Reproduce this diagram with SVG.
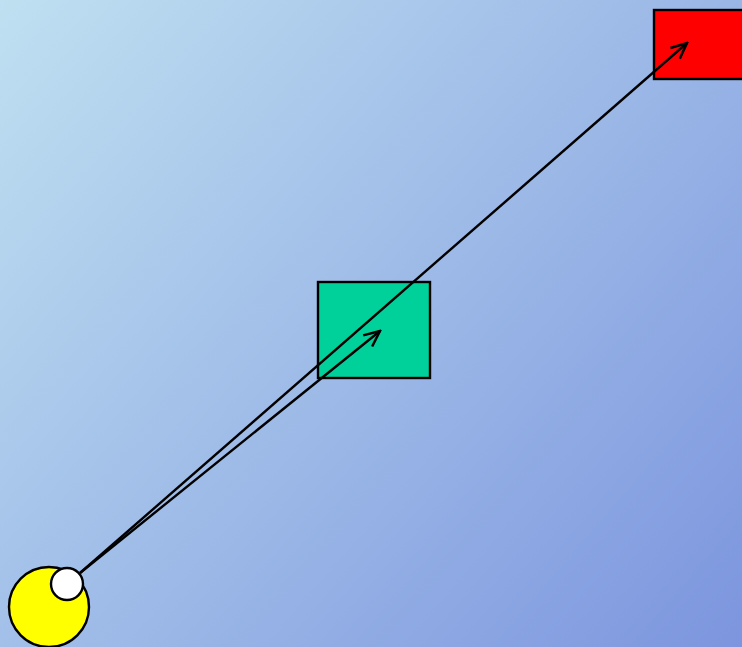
<svg xmlns="http://www.w3.org/2000/svg" width="742" height="647" viewBox="0 0 742 647">
<defs>
<linearGradient id="bg" x1="0" y1="0" x2="742" y2="647" gradientUnits="userSpaceOnUse">
<stop offset="0" stop-color="#bfe0f1"/>
<stop offset="1" stop-color="#7c95de"/>
</linearGradient>
<marker id="arr" viewBox="0 0 12 12" refX="11" refY="6" markerWidth="19" markerHeight="19" markerUnits="userSpaceOnUse" orient="auto">
<path d="M1,1.5 L11,6 L1,10.5" fill="none" stroke="#000" stroke-width="1.6"/>
</marker>
<style>
.edge{fill:none;stroke:#000;stroke-width:2.4;marker-end:url(#arr)}
.shape{stroke:#000;stroke-width:2.4}
</style>
</defs>
<rect width="742" height="647" fill="url(#bg)"/>
<g id="node-green"><rect class="shape" x="318" y="282" width="112" height="96" fill="#00d09a"/></g>
<g id="node-red"><rect class="shape" x="654" y="10" width="100" height="69" fill="#ff0000"/></g>
<g id="node-start">
<circle class="shape" cx="49" cy="607" r="40" fill="#ffff00"/>
<circle class="shape" cx="67" cy="584" r="16" fill="#ffffff"/>
</g>
<g id="connectors">
<line class="edge" x1="80" y1="573" x2="687" y2="43"/>
<line class="edge" x1="80" y1="573" x2="380" y2="331"/>
</g>
</svg>
